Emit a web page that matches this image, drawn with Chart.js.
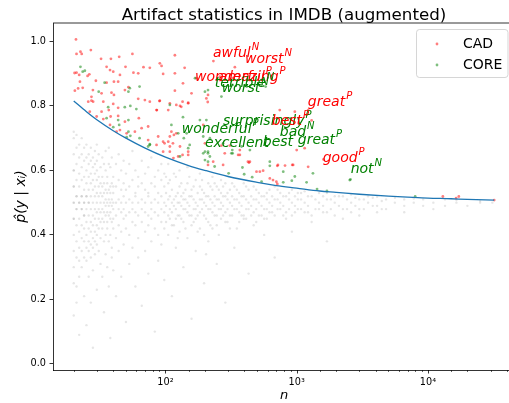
<!DOCTYPE html>
<html>
<head>
<meta charset="utf-8">
<script src="https://cdn.jsdelivr.net/npm/chart.js@4.4.1/dist/chart.umd.min.js"></script>
<style>
  html, body { margin: 0; padding: 0; overflow: hidden; background: #fff; }
</style>
</head>
<body>
<canvas id="artifact-chart" width="525" height="403"></canvas>
<script>
// ---- data ----
const xTickValues = [100, 1000, 10000];
const xTickText = ['10²', '10³', '10⁴'];
const yTickStep = 0.2;

// significance bound (blue line)
const curveN = [20, 25, 30, 40, 50, 70, 100, 150, 200, 300, 500, 700, 1000, 1500, 2000, 3000, 5000, 7000, 10000, 15000, 20000, 32000];
const curveP = [0.815, 0.782, 0.757, 0.723, 0.700, 0.669, 0.641, 0.615, 0.600, 0.581, 0.563, 0.553, 0.545, 0.536, 0.532, 0.526, 0.520, 0.517, 0.514, 0.512, 0.510, 0.508];

// CAD points [n, p]
const cadPoints = [
  [20.8,1.006],[21,0.961],[22.5,0.968],[23,0.961],[27,0.973],[20.3,0.902],[21,0.903],[22,0.896],[25.5,0.893],[26.3,0.898],
  [32.3,0.946],[38.4,0.946],[44.4,0.952],[56,0.961],[118,0.957],[35.6,0.921],[37.8,0.911],[40,0.906],[49.6,0.921],[68,0.92],
  [90.6,0.932],[93.4,0.924],[76,0.918],[45,0.896],[57,0.903],[62,0.901],[96,0.899],[118,0.901],[22.3,0.875],[23.4,0.856],
  [20.4,0.847],[21.6,0.854],[28,0.849],[27.3,0.828],[29.5,0.878],[35.6,0.872],[40.5,0.875],[43.6,0.875],[52.2,0.858],[49.1,0.849],
  [38.8,0.841],[40.5,0.834],[32.6,0.839],[27.3,0.816],[25.8,0.813],[28.1,0.813],[33.6,0.813],[40,0.806],[43.6,0.794],[62,0.822],
  [69.7,0.818],[76,0.813],[90.6,0.816],[108,0.808],[118,0.847],[129,0.8],[149,0.808],[85.5,0.787],[105,0.787],[121,0.803],
  [26.5,0.782],[32.6,0.782],[37,0.787],[29.9,0.767],[33.6,0.759],[38.2,0.767],[43.6,0.769],[49.1,0.751],[62.7,0.762],[73.8,0.736],
  [65.8,0.731],[58.5,0.72],[50.6,0.715],[73.8,0.694],[88,0.705],[85.5,0.679],[98.5,0.684],[108,0.674],[114,0.684],[129,0.674],
  [149,0.658],[135,0.648],[149,0.648],[108,0.705],[116,0.71],[45,0.725],[42.4,0.72],[37.8,0.741],
  [140,0.918],[232,0.939],[338,0.92],[158,0.839],[135,0.813],[149,0.81],[211,0.834],[205,0.823],[210,0.812],[968,0.782],
  [1190,0.772],[743,0.787],[136,0.87],[172,0.886],[260,0.891],[260,0.88],[325,0.886],[440,0.88],[540,0.88],[111,0.72],
  [121,0.715],[200,0.684],[283,0.653],[231,0.627],[275,0.617],[440,0.627],[524,0.596],[624,0.575],[660,0.57],[700,0.565],
  [720,0.617],[940,0.617],[1000,0.663],[1150,0.669],[267,0.677],[309,0.677],[369,0.663],[358,0.648],[211,0.617],[433,0.624],
  [494,0.596],[555,0.599],[712,0.614],[815,0.615],[925,0.617],[1223,0.611],[712,0.558],[13000,0.519],[16400,0.514],[17200,0.519],
  [32000,0.508],[1600,0.634],[90,0.815],[86,0.787],[132,0.797],[96,0.689],[105,0.689],[96,0.658],[108,0.658],[115,0.638],
  [125,0.643],[194,0.741],[369,0.648],[425,0.627],[1223,0.787],[1300,0.755]
];

// CORE points [n, p]
const corePoints = [
  [22.5,0.921],[23.4,0.906],[24.3,0.909],[34.4,0.872],[31,0.844],[53.5,0.855],[52.2,0.844],[63.5,0.86],[54,0.8],[60,0.79],
  [36.6,0.796],[49,0.796],[43.6,0.756],[52.2,0.756],[35.6,0.762],[40,0.734],[44.4,0.741],[52.2,0.72],[54,0.707],[50.6,0.703],
  [63.5,0.7],[76,0.679],[73.8,0.674],[111,0.741],[125,0.715],[136,0.765],[138,0.7],[129,0.643],[149,0.669],
  [200,0.658],[211,0.658],[218,0.643],[200,0.632],[237,0.612],[325,0.653],[386,0.609],[303,0.591],[398,0.588],[458,0.579],
  [540,0.565],[624,0.614],[790,0.563],[918,0.568],[1190,0.563],[1430,0.542],[1700,0.536],[2570,0.572],[8000,0.519],
  [76,0.681],[108,0.803],[145,0.715],[153,0.679],[211,0.653],[194,0.653],[211,0.627],[323,0.663],
  [168,0.886],[200,0.844],[211,0.849],[267,0.829],[325,0.865],[416,0.86],[540,0.865],[580,0.86],[183,0.756],[205,0.756],
  [194,0.705],[218,0.7],[275,0.684],[318,0.653],[380,0.674],[440,0.663],[624,0.627],[790,0.596],[968,0.581],[1330,0.591],[2537,0.57]
];

// all other words (grey cloud), [n, [p ...]]
const greyCols = [
  [20,[0.50,0.45,0.55,0.40,0.60,0.35,0.65,0.70,0.30,0.25,0.50,0.55,0.45,0.15,0.60,0.72]],
  [21,[0.52,0.48,0.43,0.57,0.62,0.38,0.33,0.67,0.52,0.48,0.24,0.71,0.19]],
  [22,[0.50,0.45,0.55,0.41,0.59,0.36,0.64,0.68,0.32,0.50,0.09,0.27]],
  [23,[0.52,0.48,0.43,0.57,0.39,0.61,0.35,0.65,0.52,0.48,0.30,0.70]],
  [24,[0.50,0.46,0.54,0.42,0.58,0.38,0.63,0.33,0.67,0.50,0.21,0.46]],
  [25,[0.52,0.48,0.44,0.56,0.40,0.60,0.36,0.64,0.68,0.32,0.12,0.52]],
  [26,[0.50,0.46,0.54,0.42,0.58,0.38,0.62,0.35,0.65,0.27,0.50]],
  [27,[0.52,0.48,0.44,0.56,0.41,0.59,0.37,0.63,0.33,0.67,0.19]],
  [28,[0.50,0.46,0.54,0.43,0.57,0.39,0.61,0.36,0.64,0.29,0.05]],
  [29,[0.52,0.48,0.45,0.55,0.41,0.59,0.38,0.62,0.66,0.34]],
  [30,[0.50,0.47,0.53,0.43,0.57,0.40,0.60,0.37,0.63,0.23,0.68]],
  [31,[0.52,0.48,0.45,0.55,0.42,0.58,0.35,0.65]],
  [32,[0.50,0.47,0.53,0.44,0.56,0.39,0.61,0.31]],
  [33,[0.52,0.48,0.45,0.55,0.42,0.58,0.64,0.27]],
  [34,[0.50,0.47,0.53,0.44,0.56,0.38,0.62,0.16]],
  [35,[0.51,0.49,0.46,0.54,0.40,0.60,0.34,0.66]],
  [36,[0.50,0.47,0.53,0.44,0.56,0.42,0.58,0.30]],
  [37,[0.51,0.49,0.46,0.54,0.38,0.62,0.67,0.24]],
  [38,[0.50,0.47,0.53,0.45,0.55,0.40,0.61,0.08]],
  [39,[0.51,0.49,0.44,0.56,0.36,0.64,0.33]],
  [40,[0.50,0.48,0.53,0.45,0.55,0.42,0.58,0.29]],
  [42,[0.50,0.46,0.55,0.39,0.62,0.21]],
  [44,[0.51,0.48,0.43,0.57,0.65,0.35]],
  [46,[0.50,0.47,0.54,0.41,0.60,0.27]],
  [48,[0.52,0.48,0.45,0.56,0.37,0.63]],
  [50,[0.50,0.46,0.54,0.42,0.59,0.13]],
  [53,[0.51,0.47,0.55,0.40,0.62,0.31]],
  [56,[0.50,0.48,0.44,0.57,0.36,0.66]],
  [59,[0.52,0.47,0.53,0.43,0.60,0.24]],
  [62,[0.50,0.46,0.55,0.39,0.58,0.33]],
  [66,[0.51,0.48,0.44,0.56,0.63,0.18]],
  [70,[0.50,0.47,0.54,0.41,0.59,0.35]],
  [74,[0.52,0.46,0.53,0.43,0.61,0.28]],
  [78,[0.50,0.48,0.45,0.56,0.38,0.64]],
  [83,[0.51,0.47,0.55,0.42,0.58,0.10]],
  [88,[0.50,0.46,0.53,0.40,0.60,0.32]],
  [93,[0.52,0.48,0.44,0.57,0.37,0.62]],
  [98,[0.50,0.47,0.55,0.42,0.59,0.26]],
  [101,[0.49,0.53,0.44,0.58]],
  [105,[0.51,0.46,0.56,0.40,0.62]],
  [108,[0.52,0.48,0.45,0.57]],
  [112,[0.50,0.47,0.54,0.43,0.21]],
  [116,[0.49,0.51,0.43,0.59]],
  [120,[0.52,0.48,0.45,0.58,0.36]],
  [124,[0.50,0.53,0.46,0.39]],
  [128,[0.50,0.46,0.55,0.41,0.60]],
  [132,[0.49,0.52,0.45,0.56]],
  [137,[0.51,0.48,0.53,0.44,0.30]],
  [142,[0.51,0.48,0.54,0.42]],
  [147,[0.50,0.47,0.56,0.39,0.61]],
  [152,[0.49,0.52,0.46,0.58]],
  [158,[0.52,0.46,0.54,0.43,0.14]],
  [164,[0.51,0.48,0.55,0.44]],
  [170,[0.50,0.48,0.45,0.57,0.35]],
  [176,[0.49,0.53,0.46,0.41]],
  [183,[0.51,0.47,0.55,0.42,0.59]],
  [190,[0.51,0.48,0.54,0.57]],
  [197,[0.50,0.46,0.53,0.40,0.25]],
  [204,[0.49,0.52,0.45,0.34]],
  [212,[0.52,0.48,0.44,0.56,0.38]],
  [220,[0.51,0.48,0.55,0.43]],
  [228,[0.50,0.47,0.54,0.42,0.58]],
  [237,[0.49,0.52,0.46,0.56]],
  [246,[0.51,0.46,0.55,0.43,0.31]],
  [255,[0.51,0.48,0.54,0.40]],
  [265,[0.50,0.48,0.53,0.45,0.57]],
  [275,[0.49,0.52,0.46,0.55]],
  [286,[0.52,0.47,0.44,0.56,0.19]],
  [297,[0.51,0.48,0.53,0.44]],
  [310,[0.50,0.46,0.54,0.42]],
  [322,[0.49,0.52,0.46,0.56]],
  [335,[0.51,0.48,0.55,0.36]],
  [350,[0.51,0.48,0.54,0.42]],
  [365,[0.50,0.47,0.53,0.44]],
  [380,[0.49,0.52,0.46]],
  [395,[0.52,0.46,0.45,0.56]],
  [412,[0.51,0.48,0.55,0.45]],
  [430,[0.50,0.48,0.54,0.28]],
  [450,[0.49,0.52,0.46]],
  [470,[0.51,0.47,0.55,0.43]],
  [492,[0.51,0.48,0.54,0.44]],
  [515,[0.50,0.46,0.53]],
  [540,[0.49,0.52,0.46]],
  [565,[0.52,0.48,0.45,0.40]],
  [592,[0.51,0.48,0.53,0.45]],
  [620,[0.50,0.47,0.54]],
  [650,[0.49,0.52,0.47]],
  [680,[0.51,0.46,0.55,0.33]],
  [715,[0.51,0.48,0.54]],
  [750,[0.50,0.48,0.53]],
  [790,[0.49,0.52,0.46]],
  [830,[0.52,0.47,0.45]],
  [875,[0.51,0.48,0.53]],
  [920,[0.50,0.46,0.54,0.41]],
  [970,[0.49,0.52,0.47]],
  [1020,[0.51,0.48,0.53]],
  [1080,[0.51,0.48,0.53]],
  [1150,[0.50,0.47,0.535]],
  [1220,[0.49,0.52,0.47]],
  [1300,[0.52,0.46,0.44]],
  [1390,[0.51,0.48]],
  [1480,[0.50,0.48,0.53]],
  [1590,[0.49,0.52,0.47]],
  [1700,[0.51,0.47,0.53,0.38]],
  [1820,[0.51,0.48]],
  [1950,[0.50,0.46,0.52]],
  [2100,[0.49,0.52]],
  [2250,[0.52,0.48,0.45]],
  [2420,[0.51,0.48]],
  [2600,[0.50,0.47,0.525]],
  [2800,[0.49,0.515]],
  [3000,[0.51,0.48,0.46]],
  [3250,[0.51,0.48]],
  [3500,[0.50,0.52]],
  [3800,[0.49,0.515]],
  [4100,[0.49,0.518,0.47]],
  [4450,[0.505,0.48]],
  [4800,[0.51,0.48]],
  [5600,[0.50,0.515]],
  [6600,[0.49,0.51,0.47]],
  [7800,[0.50,0.513]],
  [9200,[0.49,0.51]],
  [11000,[0.50,0.48]],
  [13500,[0.51,0.49]],
  [16500,[0.50,0.508]],
  [20000,[0.49]],
  [25000,[0.505,0.50]],
  [31000,[0.50]]
];

// word annotations
const wordText = ['awful', 'worst', 'wonderful', 'amazing', 'terrible', 'worst', 'great', 'surprisingly', 'best', 'bad', 'wonderful', 'excellent', 'best', 'great', 'good', 'not'];
const wordSup  = ['N', 'N', 'P', 'P', 'N', 'N', 'P', 'P', 'P', 'N', 'P', '', '', 'P', 'P', 'N'];
const wordSet  = ['CAD', 'CAD', 'CAD', 'CAD', 'CORE', 'CORE', 'CAD', 'CORE', 'CAD', 'CORE', 'CORE', 'CORE', 'CORE', 'CORE', 'CAD', 'CORE'];
const wordN    = [230, 404, 168, 255, 238, 268, 1216, 274, 646, 743, 133, 200, 552, 1019, 1578, 2577];
const wordP    = [0.952, 0.933, 0.877, 0.877, 0.859, 0.843, 0.800, 0.741, 0.741, 0.707, 0.716, 0.673, 0.676, 0.682, 0.626, 0.592];

const legendLabels = ['CAD', 'CORE'];

// ---- chart ----
const RED = 'rgba(255,0,0,0.5)';
const GREEN = 'rgba(0,128,0,0.5)';
Chart.defaults.font.family = '"DejaVu Sans", sans-serif';

const toXY = pts => pts.map(([n, p]) => ({ x: n, y: p }));
const greyXY = greyCols.flatMap(([n, ps]) => ps.map(p => ({ x: n, y: p })));
const curveXY = curveN.map((n, i) => ({ x: n, y: curveP[i] }));

const decor = {
  id: 'decor',
  afterDraw(chart) {
    const { ctx, chartArea: a, scales: { x, y } } = chart;
    ctx.save();

    // top / right spines
    ctx.strokeStyle = '#000';
    ctx.lineWidth = 0.8;
    ctx.beginPath();
    ctx.moveTo(a.left, a.top);
    ctx.lineTo(a.right, a.top);
    ctx.lineTo(a.right, a.bottom);
    ctx.stroke();

    // x tick marks, major longer than minor
    x.ticks.forEach(t => {
      if (t.value <= x.min || t.value >= x.max) return;
      const px = Math.round(x.getPixelForValue(t.value)) + 0.5;
      const major = xTickValues.includes(t.value);
      ctx.lineWidth = major ? 0.8 : 0.6;
      ctx.beginPath();
      ctx.moveTo(px, a.bottom);
      ctx.lineTo(px, a.bottom + (major ? 3.5 : 2));
      ctx.stroke();
    });

    // word annotations
    ctx.textAlign = 'left';
    ctx.textBaseline = 'alphabetic';
    wordText.forEach((w, i) => {
      const px = x.getPixelForValue(wordN[i]);
      const py = y.getPixelForValue(wordP[i]);
      ctx.fillStyle = wordSet[i] === 'CAD' ? '#ff0000' : '#008000';
      ctx.font = 'italic 14px "DejaVu Sans"';
      ctx.fillText(w, px, py);
      if (wordSup[i]) {
        const wd = ctx.measureText(w).width;
        ctx.font = 'italic 10px "DejaVu Sans"';
        ctx.fillText(wordSup[i], px + wd + 1, py - 7);
      }
    });

    // legend box
    const lx = 416.5, ly = 29.5, lw = 91.5, lh = 48, r = 3;
    ctx.beginPath();
    ctx.moveTo(lx + r, ly);
    ctx.arcTo(lx + lw, ly, lx + lw, ly + lh, r);
    ctx.arcTo(lx + lw, ly + lh, lx, ly + lh, r);
    ctx.arcTo(lx, ly + lh, lx, ly, r);
    ctx.arcTo(lx, ly, lx + lw, ly, r);
    ctx.closePath();
    ctx.fillStyle = 'rgba(255,255,255,0.8)';
    ctx.fill();
    ctx.strokeStyle = 'rgba(204,204,204,0.8)';
    ctx.lineWidth = 1;
    ctx.stroke();
    legendLabels.forEach((lab, i) => {
      const cy = 44 + i * 21;
      ctx.fillStyle = i === 0 ? RED : GREEN;
      ctx.beginPath();
      ctx.arc(437, cy, 1.4, 0, Math.PI * 2);
      ctx.fill();
      ctx.fillStyle = '#000';
      ctx.font = '14px "DejaVu Sans"';
      ctx.textBaseline = 'middle';
      ctx.fillText(lab, 463, cy);
    });

    // title
    ctx.fillStyle = '#000';
    ctx.textAlign = 'center';
    ctx.textBaseline = 'alphabetic';
    ctx.font = '16.7px "DejaVu Sans"';
    ctx.fillText('Artifact statistics in IMDB (augmented)', (a.left + a.right) / 2, 19.5);

    // axis labels
    ctx.font = 'italic 13px "DejaVu Sans"';
    ctx.textBaseline = 'middle';
    ctx.fillText('n', (a.left + a.right) / 2, 396);
    ctx.translate(21, (a.top + a.bottom) / 2);
    ctx.rotate(-Math.PI / 2);
    ctx.font = 'italic 14px "DejaVu Sans"';
    ctx.fillText('p̂(y | xᵢ)', 0, 0);

    ctx.restore();
  }
};

const ctx = document.getElementById('artifact-chart').getContext('2d');
new Chart(ctx, {
  type: 'scatter',
  data: {
    datasets: [
      { label: 'other', data: greyXY, order: 3, pointRadius: 1.2, borderWidth: 0, backgroundColor: 'rgba(128,128,128,0.2)' },
      { label: 'CAD', data: toXY(cadPoints), order: 2, pointRadius: 1.4, borderWidth: 0, backgroundColor: RED },
      { label: 'CORE', data: toXY(corePoints), order: 1, pointRadius: 1.4, borderWidth: 0, backgroundColor: GREEN },
      {
        type: 'line', label: 'bound', data: curveXY, order: 0,
        borderColor: '#1f77b4', borderWidth: 1.3, pointRadius: 0, fill: false,
        cubicInterpolationMode: 'monotone'
      }
    ]
  },
  options: {
    responsive: false,
    animation: false,
    devicePixelRatio: 1,
    events: [],
    layout: { padding: { top: 23, right: 10, left: 0, bottom: 0 } },
    plugins: { legend: { display: false }, tooltip: { enabled: false }, title: { display: false } },
    scales: {
      x: {
        type: 'logarithmic',
        min: 13.9,
        max: 46100,
        afterFit: s => { s.height = 33; },
        border: { display: true, color: '#000', width: 0.8 },
        grid: { display: true, drawOnChartArea: false, drawTicks: true, tickLength: 3.5, tickColor: 'rgba(0,0,0,0)' },
        ticks: {
          autoSkip: false, maxRotation: 0, padding: 3.5, color: '#000',
          font: { size: 9.7 },
          callback: v => {
            const k = xTickValues.indexOf(v);
            return k >= 0 ? xTickText[k] : '';
          }
        }
      },
      y: {
        min: -0.019,
        max: 1.057,
        afterFit: s => { s.width = 53; },
        border: { display: true, color: '#000', width: 0.8 },
        grid: { display: true, drawOnChartArea: false, drawTicks: true, tickLength: 3.5, tickColor: '#000', tickWidth: 0.8 },
        ticks: {
          stepSize: yTickStep, includeBounds: false, padding: 3.5, color: '#000',
          font: { size: 9.7 },
          callback: v => v.toFixed(1)
        }
      }
    }
  },
  plugins: [decor]
});
</script>
</body>
</html>
